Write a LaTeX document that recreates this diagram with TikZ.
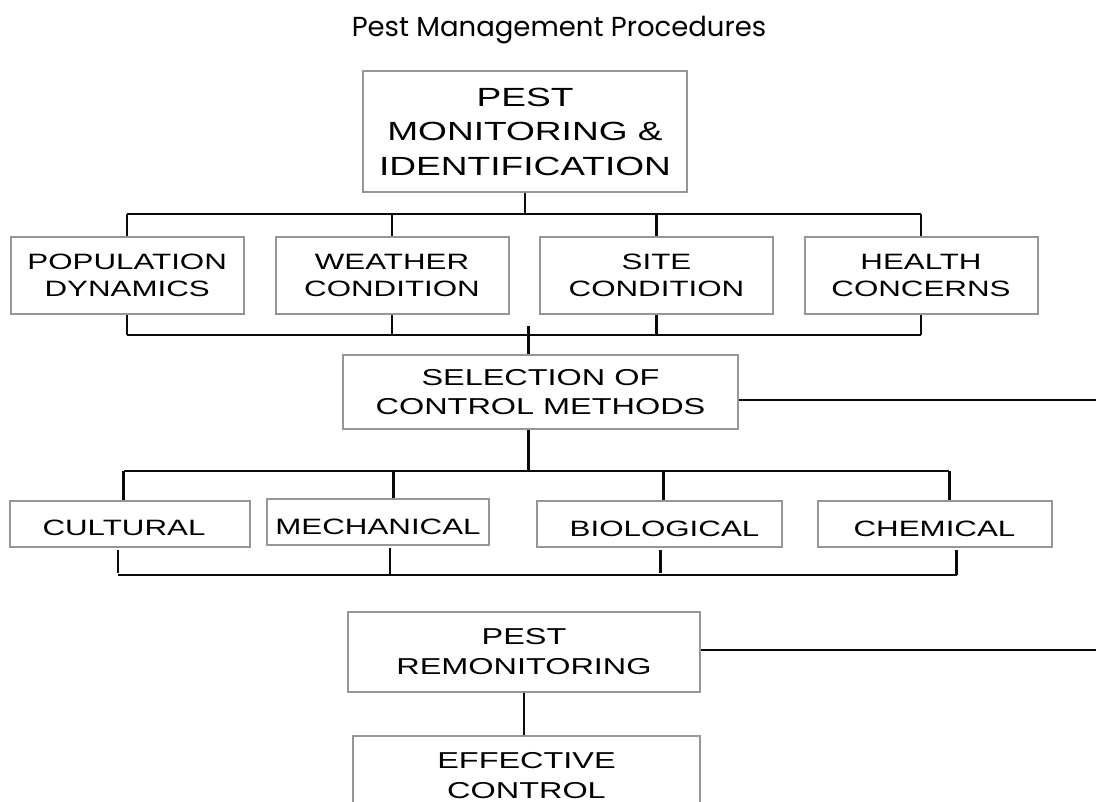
\documentclass[tikz,border=0pt]{standalone}
\usepackage{fontspec}
\usepackage{tikz}
\newfontfamily\boxfont{Liberation Sans}[FakeStretch=1.41]
\newfontfamily\titlefont{Poppins}
\definecolor{ColBox}{RGB}{150,150,150}
\definecolor{ColLine}{RGB}{10,10,10}
\tikzstyle{BoxNode}=[rectangle,draw=ColBox,line width=2pt,fill=white,inner sep=0pt,align=center,
font=\boxfont\fontsize{22.2}{26.7}\selectfont]
\tikzstyle{RowBox}=[BoxNode,minimum width=233pt,minimum height=77pt]
\tikzstyle{MethodBox}=[BoxNode,minimum height=46pt,text height=24pt,text depth=0pt]
\tikzstyle{EdgeLine}=[ColLine,line width=2.5pt]

\begin{document}
\begin{tikzpicture}[x=1pt,y=-1pt]
        \useasboundingbox[fill=white](0,0)rectangle(1096,802);
        \node[anchor=base,font=\titlefont\fontsize{27.5}{32}\selectfont](ttl)at(559,36.5){Pest Management Procedures};
        \node[BoxNode,minimum width=324pt,minimum height=121pt,
          font=\boxfont\fontsize{26.3}{34.5}\selectfont](mon)at(525,131.5){PEST\\MONITORING \&\\IDENTIFICATION};
        \node[RowBox](pop)at(127.2,275.5){POPULATION\\DYNAMICS};
        \node[RowBox](wea)at(392,275.5){WEATHER\\CONDITION};
        \node[RowBox](sit)at(656.5,275.5){SITE\\CONDITION};
        \node[RowBox](hea)at(921,275.5){HEALTH\\CONCERNS};
        \node[BoxNode,minimum width=395pt,minimum height=74pt,
          font=\boxfont\fontsize{23}{29.3}\selectfont](sel)at(540.5,392){SELECTION OF\\CONTROL METHODS};
        \node[MethodBox,minimum width=240pt](cul)at(130,523.5){\hspace*{-12pt}CULTURAL};
        \node[MethodBox,minimum width=222pt](mec)at(378,522){MECHANICAL};
        \node[MethodBox,minimum width=245pt](bio)at(659.5,524){\hspace*{10pt}BIOLOGICAL};
        \node[MethodBox,minimum width=234pt](che)at(934.5,524){CHEMICAL};
        \node[BoxNode,minimum width=352pt,minimum height=80pt,
          font=\boxfont\fontsize{23}{29.3}\selectfont](rem)at(524,651.7){PEST\\REMONITORING};
        \node[BoxNode,minimum width=347pt,minimum height=80pt,anchor=north,
          font=\boxfont\fontsize{23}{30}\selectfont](eff)at(526.5,735){EFFECTIVE\\CONTROL};
        % buses
        \coordinate(a1)at(127.2,214);
        \coordinate(a2)at(921,214);
        \coordinate(b1)at(127.2,335);
        \coordinate(b2)at(921,335);
        \coordinate(bx)at(528.5,326);
        \coordinate(c1)at(123.5,471);
        \coordinate(c2)at(393.7,471);
        \coordinate(c3)at(663.3,471);
        \coordinate(c4)at(949.3,471);
        \coordinate(d1)at(118,575);
        \coordinate(d2)at(390,575);
        \coordinate(d3)at(660.7,575);
        \coordinate(d4)at(956.7,575);
        \coordinate(e1)at(1096,400);
        \coordinate(e2)at(1096,650);
        \draw[EdgeLine](mon.south)--(mon.south|-a1);
        \draw[EdgeLine](a1)--(a2);
        \draw[EdgeLine](pop.north)--(pop.north|-a1);
        \draw[EdgeLine](wea.north)--(wea.north|-a1);
        \draw[EdgeLine](sit.north)--(sit.north|-a1);
        \draw[EdgeLine](hea.north)--(hea.north|-a1);
        \draw[EdgeLine](b1)--(b2);
        \draw[EdgeLine](pop.south)--(pop.south|-b1);
        \draw[EdgeLine](wea.south)--(wea.south|-b1);
        \draw[EdgeLine](sit.south)--(sit.south|-b1);
        \draw[EdgeLine](hea.south)--(hea.south|-b1);
        \draw[EdgeLine](bx)--(bx|-sel.north);
        \draw[EdgeLine](sel.east|-e1)--(e1);
        \draw[EdgeLine](sel.south-|bx)--(c1-|bx);
        \draw[EdgeLine](c1)--(c4);
        \draw[EdgeLine](c1)--(c1|-cul.north);
        \draw[EdgeLine](c2)--(c2|-mec.north);
        \draw[EdgeLine](c3)--(c3|-bio.north);
        \draw[EdgeLine](c4)--(c4|-che.north);
        \draw[EdgeLine](d1)--(d4);
        \draw[EdgeLine]([yshift=2pt]d1)--([yshift=-2pt]d1|-cul.south);
        \draw[EdgeLine](d2)--([yshift=-2pt]d2|-mec.south);
        \draw[EdgeLine]([yshift=2pt]d3)--([yshift=-2pt]d3|-bio.south);
        \draw[EdgeLine](d4)--([yshift=-2pt]d4|-che.south);
        \draw[EdgeLine](rem.east|-e2)--(e2);
        \draw[EdgeLine](rem.south)--(rem.south|-eff.north);
    \end{tikzpicture}
\end{document}
